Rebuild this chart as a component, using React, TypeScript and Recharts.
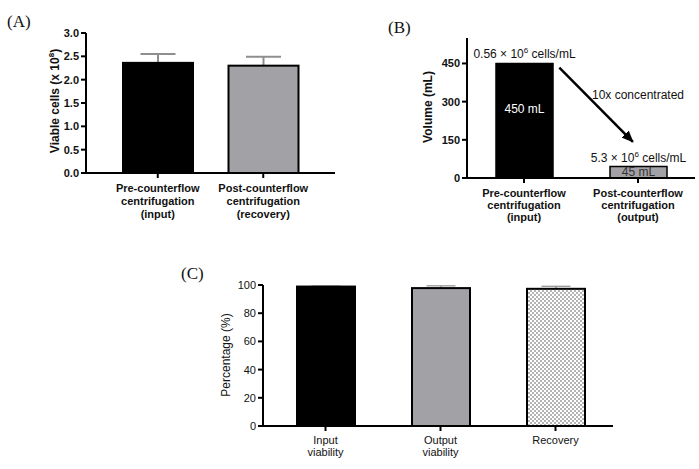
import React from 'react';
import {
  BarChart,
  Bar,
  XAxis,
  YAxis,
  Cell,
  LabelList,
  Label,
  ReferenceLine,
  ReferenceDot
} from 'recharts';

// (A) viable cells before / after counterflow centrifugation
const cellCategories = ['Pre-counterflow\ncentrifugation\n(input)', 'Post-counterflow\ncentrifugation\n(recovery)'];
const viableCells = [2.36, 2.3];
const viableCellsErr = [0.19, 0.19];
const cellTicks = [0, 0.5, 1, 1.5, 2, 2.5, 3];

// (B) volumes and concentrations
const volumeCategories = ['Pre-counterflow\ncentrifugation\n(input)', 'Post-counterflow\ncentrifugation\n(output)'];
const volumes = [450, 45];
const volumeLabels = ['450 mL', '45 mL'];
const concentrationBase = ['0.56', '5.3'];
const concentrationExp = ['6', '6'];
const volumeTicks = [0, 150, 300, 450];

// (C) viability and recovery
const viabilityCategories = ['Input\nviability', 'Output\nviability', 'Recovery'];
const percentages = [98.9, 97.8, 97.3];
const percentagesErr = [0.3, 1.6, 1.8];
const percentTicks = [0, 20, 40, 60, 80, 100];

const FONT = '"Liberation Sans", Arial, sans-serif';
const SERIF = '"Liberation Serif", "Times New Roman", serif';
const GREY = '#a2a2a6';

const cellData = cellCategories.map((name, i) => ({ name, value: viableCells[i], err: viableCellsErr[i] }));
const volumeData = volumeCategories.map((name, i) => ({ name, value: volumes[i] }));
const viabilityData = viabilityCategories.map((name, i) => ({ name, value: percentages[i], err: percentagesErr[i] }));

const axisStyle = { stroke: '#000', strokeWidth: 2 };

// bar rectangle plus an upward-only whisker (GraphPad style)
const makeErrorShape = (strokeWidth: number, errWidth: number) => (props: any) => {
  const { x, y, width, height, fill, payload } = props;
  const perUnit = payload.value ? height / payload.value : 0;
  const top = y - (payload.err || 0) * perUnit;
  const cx = x + width / 2;
  const cap = width / 4;
  return (
    <g>
      {payload.err > 0 && (
        <g stroke="#8e8e8e" strokeWidth={errWidth}>
          <line x1={cx} y1={y} x2={cx} y2={top} />
          <line x1={cx - cap} y1={top} x2={cx + cap} y2={top} />
        </g>
      )}
      <rect x={x} y={y} width={width} height={height} fill={fill} stroke="#000" strokeWidth={strokeWidth} />
    </g>
  );
};

const multiTick = (bold: boolean, fontSize: number, lineHeight: number) => (props: any) => {
  const { x, y, payload } = props;
  const lines = String(payload.value).split('\n');
  return (
    <text x={x} y={y} textAnchor="middle" fontFamily={FONT} fontSize={fontSize} fontWeight={bold ? 'bold' : 'normal'} fill="#111">
      {lines.map((l, i) => (
        <tspan key={i} x={x} dy={i === 0 ? '0.71em' : lineHeight}>
          {l}
        </tspan>
      ))}
    </text>
  );
};

const ConcentrationLabel = (props: any) => {
  const { x, y, width, index } = props;
  return (
    <text x={x + width / 2} y={y - 5} textAnchor="middle" fontFamily={FONT} fontSize={12} fill="#111">
      {concentrationBase[index]} × 10
      <tspan dy={-5} fontSize={8}>{concentrationExp[index]}</tspan>
      <tspan dy={5}> cells/mL</tspan>
    </text>
  );
};

const VolumeLabel = (props: any) => {
  const { x, y, width, height, index } = props;
  return (
    <text
      x={x + width / 2}
      y={Math.min(y + height / 2 + 4, y + 50)}
      textAnchor="middle"
      fontFamily={FONT}
      fontSize={12}
      fill={index === 0 ? '#fff' : '#333'}
    >
      {volumeLabels[index]}
    </text>
  );
};

// arrow between the two categories: starts just right of bar 1, ends left of bar 2's centre
const ArrowShape = (p: any) => {
  const dx = p.x2 - p.x1;
  return (
    <line
      x1={p.x1 + dx * 0.31}
      y1={p.y1}
      x2={p.x1 + dx * 0.955}
      y2={p.y2}
      stroke="#000"
      strokeWidth={2.5}
      markerEnd="url(#arrowHead)"
    />
  );
};

const App: React.FC = () => {
  return (
    <div style={{ position: 'absolute', left: 0, top: 0, width: 699, height: 469, background: '#fff' }}>
      <svg width={0} height={0} style={{ position: 'absolute' }}>
        <defs>
          <pattern id="checker" width={4} height={4} patternUnits="userSpaceOnUse">
            <rect width={4} height={4} fill="#fff" />
            <rect width={2} height={2} fill="#b4b4b4" />
            <rect x={2} y={2} width={2} height={2} fill="#b4b4b4" />
          </pattern>
          <marker id="arrowHead" markerUnits="userSpaceOnUse" markerWidth={12} markerHeight={10} refX={11} refY={5} orient="auto">
            <path d="M0,0 L12,5 L0,10 z" fill="#000" />
          </marker>
        </defs>
      </svg>

      <svg width={699} height={469} style={{ position: 'absolute', left: 0, top: 0, pointerEvents: 'none' }}>
        <text x={7} y={27} fontFamily={SERIF} fontSize={17} fill="#111">(A)</text>
        <text x={388} y={33} fontFamily={SERIF} fontSize={17} fill="#111">(B)</text>
        <text x={181} y={279} fontFamily={SERIF} fontSize={17} fill="#111">(C)</text>
      </svg>

      {/* (A) */}
      <div style={{ position: 'absolute', left: 0, top: 0 }}>
        <BarChart width={350} height={230} data={cellData} margin={{ top: 33, right: 15, bottom: 27, left: 36 }} barSize={70}>
          <XAxis
            dataKey="name"
            interval={0}
            height={30}
            axisLine={axisStyle}
            tickLine={axisStyle}
            tickSize={5}
            tickMargin={6}
            padding={{ left: 19, right: 19 }}
            tick={multiTick(true, 11, 13)}
          />
          <YAxis
            domain={[0, 3]}
            ticks={cellTicks}
            width={50}
            axisLine={axisStyle}
            tickLine={axisStyle}
            tickSize={5}
            tickFormatter={(v: number) => v.toFixed(1)}
            tick={{ fontFamily: FONT, fontSize: 11, fontWeight: 'bold', fill: '#111' }}
          >
            <Label
              content={() => (
                <text x={55} y={101} transform="rotate(-90 55 101)" textAnchor="middle" fontFamily={FONT} fontSize={12} fontWeight="bold" fill="#111" dy={4}>
                  Viable cells (x 10<tspan dy={-5} fontSize={8}>8</tspan><tspan dy={5}>)</tspan>
                </text>
              )}
            />
          </YAxis>
          <Bar dataKey="value" isAnimationActive={false} shape={makeErrorShape(2, 2)}>
            {cellData.map((d, i) => (
              <Cell key={d.name} fill={i === 0 ? '#000' : GREY} />
            ))}
          </Bar>
        </BarChart>
      </div>

      {/* (B) */}
      <div style={{ position: 'absolute', left: 360, top: 0 }}>
        <BarChart width={339} height={230} data={volumeData} margin={{ top: 38, right: 4, bottom: 22, left: 67 }} barSize={57}>
          <XAxis
            dataKey="name"
            interval={0}
            height={30}
            axisLine={axisStyle}
            tickLine={axisStyle}
            tickSize={5}
            tickMargin={6}
            tick={multiTick(true, 11, 12)}
          />
          <YAxis
            domain={[0, 550]}
            ticks={volumeTicks}
            width={40}
            axisLine={axisStyle}
            tickLine={axisStyle}
            tickSize={5}
            tick={{ fontFamily: FONT, fontSize: 11, fontWeight: 'bold', fill: '#111' }}
          >
            <Label
              content={() => (
                <text x={68} y={107} transform="rotate(-90 68 107)" textAnchor="middle" fontFamily={FONT} fontSize={12} fontWeight="bold" fill="#111" dy={4}>
                  Volume (mL)
                </text>
              )}
            />
          </YAxis>
          <Bar dataKey="value" isAnimationActive={false} stroke="#000" strokeWidth={1.5}>
            {volumeData.map((d, i) => (
              <Cell key={d.name} fill={i === 0 ? '#000' : GREY} />
            ))}
            <LabelList dataKey="value" content={ConcentrationLabel} />
            <LabelList dataKey="value" content={VolumeLabel} />
          </Bar>
          <ReferenceLine
            ifOverflow="visible"
            segment={[{ x: volumeCategories[0], y: 434 }, { x: volumeCategories[1], y: 142 }]}
            shape={ArrowShape}
          />
          <ReferenceDot
            ifOverflow="visible"
            x={volumeCategories[1]}
            y={328}
            r={0}
            fill="none"
            stroke="none"
            label={{ value: '10x concentrated', position: 'center', fontSize: 12, fill: '#111', fontFamily: FONT }}
          />
        </BarChart>
      </div>

      {/* (C) */}
      <div style={{ position: 'absolute', left: 180, top: 260 }}>
        <BarChart width={440} height={209} data={viabilityData} margin={{ top: 25, right: 7, bottom: 13, left: 43 }} barSize={58}>
          <XAxis
            dataKey="name"
            interval={0}
            height={30}
            axisLine={axisStyle}
            tickLine={axisStyle}
            tickSize={5}
            tickMargin={5}
            padding={{ left: 5, right: 0 }}
            tick={multiTick(false, 11, 12)}
          />
          <YAxis
            domain={[0, 100]}
            ticks={percentTicks}
            width={40}
            axisLine={axisStyle}
            tickLine={axisStyle}
            tickSize={5}
            tick={{ fontFamily: FONT, fontSize: 11, fill: '#111' }}
          >
            <Label
              content={() => (
                <text x={46} y={95} transform="rotate(-90 46 95)" textAnchor="middle" fontFamily={FONT} fontSize={12} fill="#111" dy={4}>
                  Percentage (%)
                </text>
              )}
            />
          </YAxis>
          <Bar dataKey="value" isAnimationActive={false} shape={makeErrorShape(2, 1.2)}>
            {viabilityData.map((d, i) => (
              <Cell key={d.name} fill={i === 0 ? '#000' : i === 1 ? GREY : 'url(#checker)'} />
            ))}
          </Bar>
        </BarChart>
      </div>
    </div>
  );
};

export default App;
